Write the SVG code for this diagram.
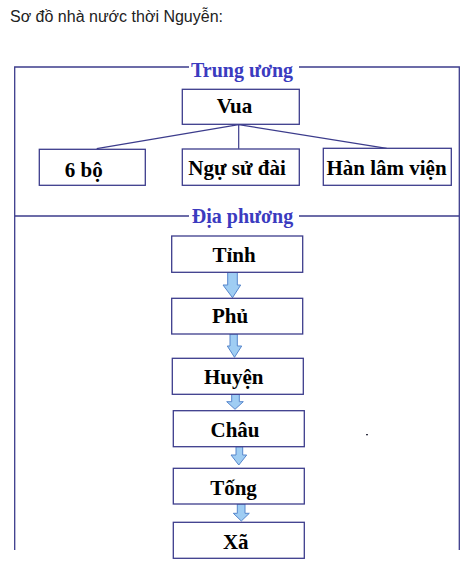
<svg xmlns="http://www.w3.org/2000/svg" width="472" height="562" viewBox="0 0 472 562">
<style>
.box{fill:#fff;stroke:#3c3c8c;stroke-width:1.3}
.frame{fill:none;stroke:#3c3c8c;stroke-width:1.3}
.lbl{font-family:"Liberation Serif","Times New Roman",serif;font-weight:bold;font-size:21px;fill:#000;text-anchor:middle}
.head{font-family:"Liberation Serif","Times New Roman",serif;font-weight:bold;font-size:20px;fill:#3b3bbf;text-anchor:middle}
.arr{fill:#9fcdf3;stroke:#5686cc;stroke-width:1}
.conn{fill:none;stroke:#3c3c8c;stroke-width:1.2}
</style>
<rect width="472" height="562" fill="#fff"/>
<text x="10" y="22" font-family="Liberation Sans, Arial, sans-serif" font-size="16" fill="#222">Sơ đồ nhà nước thời Nguyễn:</text>
<g id="frame">
<path class="frame" d="M14.7,550 V67 H189 M299,67 H459.3 V550 M14.7,216 H189 M299,216 H459.3"/>
<text class="head" x="242" y="76.7">Trung ương</text>
<text class="head" x="242.5" y="222.7">Địa phương</text>
</g>
<g id="connectors">
<path class="conn" d="M238.7,124.7 L96.7,148.7 M238.7,124.7 V148.7 M238.7,124.7 L386.7,148.3"/>
<path class="arr" d="M227.7,272.3 H237.3 V285 H240.7 L232.5,297.7 L223,285 H227.7 Z"/>
<path class="arr" d="M230,334 H237.3 V346 H241.7 L234.5,357.3 L227.3,346 H230 Z"/>
<path class="arr" d="M231.7,394.3 H239.3 V401.7 H243.3 L235,409.3 L226.7,401.7 H231.7 Z"/>
<path class="arr" d="M236,446.7 H242.7 V455 H246.7 L238.8,465 L231,455 H236 Z"/>
<path class="arr" d="M237.3,504 H245 V513.3 H249.3 L241.3,521 L233.3,513.3 H237.3 Z"/>
</g>
<g id="vua"><rect class="box" x="182.3" y="89.3" width="117" height="35"/><text class="lbl" x="234.5" y="113.3">Vua</text></g>
<g id="sau-bo"><rect class="box" x="39.3" y="149.3" width="106" height="36"/><text class="lbl" x="83.8" y="176.7">6 bộ</text></g>
<g id="ngu-su-dai"><rect class="box" x="182.3" y="149" width="117" height="36.3"/><text class="lbl" x="237" y="175">Ngự sử đài</text></g>
<g id="han-lam-vien"><rect class="box" x="323.3" y="148.3" width="128" height="37"/><text class="lbl" x="386.5" y="175">Hàn lâm viện</text></g>
<g id="tinh"><rect class="box" x="171.7" y="236" width="131" height="36.3"/><text class="lbl" x="234" y="261.7">Tỉnh</text></g>
<g id="phu"><rect class="box" x="171.7" y="298.3" width="131" height="35.7"/><text class="lbl" x="230" y="322.7">Phủ</text></g>
<g id="huyen"><rect class="box" x="172.3" y="358.3" width="131" height="36"/><text class="lbl" x="233.8" y="384">Huyện</text></g>
<g id="chau"><rect class="box" x="173.3" y="410.7" width="131" height="36"/><text class="lbl" x="235" y="436.7">Châu</text></g>
<g id="tong"><rect class="box" x="173.3" y="468.3" width="131" height="35.7"/><text class="lbl" x="233.5" y="495">Tống</text></g>
<g id="xa"><rect class="box" x="173.3" y="522.3" width="131" height="36"/><text class="lbl" x="235.8" y="549.3">Xã</text></g>
<rect x="366" y="434" width="2" height="1.3" fill="#334"/>
</svg>
